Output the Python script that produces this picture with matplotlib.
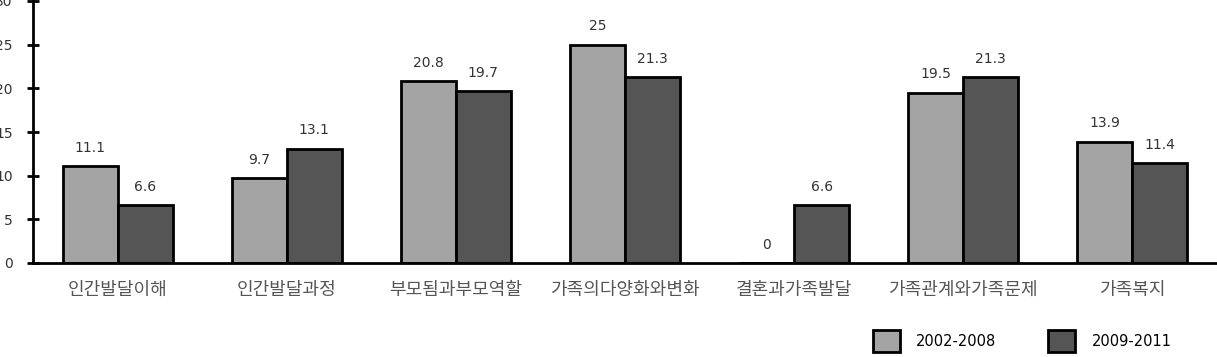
import numpy as np
import matplotlib
matplotlib.use('Agg')
import matplotlib.pyplot as plt

plt.rcParams['font.family'] = ['DejaVu Sans', 'Noto Sans CJK KR']

categories = ['인간발달이해', '인간발달과정', '부모됨과부모역할', '가족의다양화와변화',
              '결혼과가족발달', '가족관계와가족문제', '가족복지']
v_2002_2008 = [11.1, 9.7, 20.8, 25, 0, 19.5, 13.9]
v_2009_2011 = [6.6, 13.1, 19.7, 21.3, 6.6, 21.3, 11.4]
series_names = ['2002-2008', '2009-2011']
y_ticks = [0, 5, 10, 15, 20, 25, 30]

fig = plt.figure(figsize=(12.17, 3.57), dpi=100)
ax = fig.add_axes([33 / 1217, 94 / 357, 1184 / 1217, 262 / 357])

x = np.arange(len(categories))
w = 0.325
b1 = ax.bar(x - w / 2, v_2002_2008, w, color='#a4a4a4', edgecolor='black',
            linewidth=2.0, label=series_names[0])
b2 = ax.bar(x + w / 2, v_2009_2011, w, color='#555555', edgecolor='black',
            linewidth=2.0, label=series_names[1])

for bars, vals in ((b1, v_2002_2008), (b2, v_2009_2011)):
    for r, v in zip(bars, vals):
        ax.text(r.get_x() + r.get_width() / 2, v + 1.3, f'{v:g}',
                ha='center', va='bottom', fontsize=10, color='#333333')

ax.set_xlim(-0.5, 6.5)
ax.set_ylim(0, 30)
ax.set_yticks(y_ticks)
ax.set_xticks(x)
ax.set_xticklabels(categories, fontsize=13, color='#555555',
                   family=['Noto Sans CJK KR', 'DejaVu Sans'])
ax.tick_params(axis='x', length=0, pad=13)
ax.tick_params(axis='y', direction='inout', length=9, width=2, pad=10,
               labelsize=10, labelcolor='#333333')
for s in ('top', 'right'):
    ax.spines[s].set_visible(False)
ax.spines['left'].set_linewidth(2)
ax.spines['bottom'].set_linewidth(2)

fig.legend(loc='center', bbox_to_anchor=(1022 / 1217, 1 - 341 / 357), ncol=2,
           frameon=False, fontsize=10.5, handlelength=1.9, handleheight=1.9,
           columnspacing=3.5, handletextpad=1.1)

fig.savefig('out.png', dpi=100)
